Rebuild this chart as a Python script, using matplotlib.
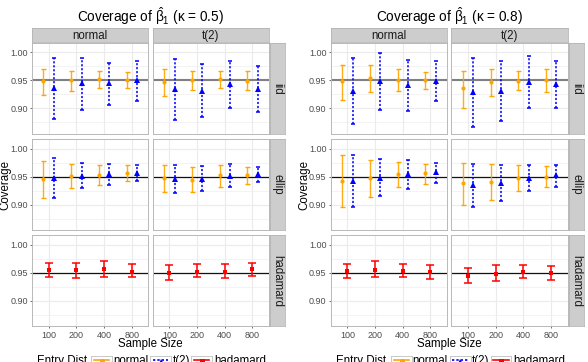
import matplotlib
matplotlib.use('Agg')
import matplotlib.pyplot as plt
from matplotlib.lines import Line2D

plt.rcParams['font.family'] = ['Liberation Sans', 'DejaVu Sans']
plt.rcParams['mathtext.fontset'] = 'custom'
plt.rcParams['mathtext.rm'] = 'Liberation Sans'
plt.rcParams['mathtext.it'] = 'Liberation Sans:italic'
plt.rcParams['mathtext.bf'] = 'Liberation Sans:bold'

# ---------------- data ----------------
sample_sizes = ['100', '200', '400', '800']
row_labels = ['iid', 'ellip', 'hadamard']
col_labels = ['normal', 't(2)']
entry_labels = ['normal', 't(2)', 'hadamard']
entry_colors = ['#FFA500', '#0000FF', '#FF0000']
entry_markers = ['o', '^', 's']
kappas = ['0.5', '0.8']

# each series: [estimate, lower, upper] for n = 100, 200, 400, 800
# kappa = 0.5
k05_iid_normal_normal = [[0.949, 0.950, 0.952, 0.951], [0.924, 0.931, 0.937, 0.937], [0.970, 0.967, 0.967, 0.965]]
k05_iid_normal_t2 = [[0.937, 0.945, 0.946, 0.950], [0.882, 0.898, 0.907, 0.913], [0.991, 0.991, 0.982, 0.985]]
k05_iid_t2_normal = [[0.948, 0.950, 0.952, 0.949], [0.923, 0.933, 0.937, 0.933], [0.970, 0.967, 0.967, 0.967]]
k05_iid_t2_t2 = [[0.934, 0.931, 0.943, 0.935], [0.879, 0.885, 0.901, 0.893], [0.989, 0.979, 0.985, 0.975]]
k05_ellip_normal_normal = [[0.945, 0.951, 0.953, 0.957], [0.912, 0.929, 0.935, 0.942], [0.978, 0.973, 0.971, 0.971]]
k05_ellip_normal_t2 = [[0.948, 0.951, 0.955, 0.957], [0.912, 0.929, 0.935, 0.942], [0.984, 0.974, 0.972, 0.970]]
k05_ellip_t2_normal = [[0.947, 0.944, 0.952, 0.952], [0.923, 0.923, 0.932, 0.936], [0.971, 0.968, 0.971, 0.968]]
k05_ellip_t2_t2 = [[0.946, 0.946, 0.951, 0.955], [0.921, 0.924, 0.931, 0.940], [0.971, 0.969, 0.972, 0.968]]
k05_hadamard_normal_hadamard = [[0.954, 0.954, 0.956, 0.952], [0.942, 0.941, 0.942, 0.943], [0.968, 0.968, 0.970, 0.965]]
k05_hadamard_t2_hadamard = [[0.950, 0.952, 0.952, 0.957], [0.937, 0.942, 0.940, 0.944], [0.964, 0.966, 0.966, 0.968]]
# kappa = 0.8
k08_iid_normal_normal = [[0.949, 0.954, 0.951, 0.951], [0.916, 0.930, 0.931, 0.934], [0.977, 0.978, 0.971, 0.966]]
k08_iid_normal_t2 = [[0.932, 0.949, 0.942, 0.949], [0.872, 0.898, 0.896, 0.913], [0.991, 0.999, 0.987, 0.984]]
k08_iid_t2_normal = [[0.936, 0.947, 0.949, 0.950], [0.901, 0.922, 0.933, 0.930], [0.967, 0.970, 0.967, 0.970]]
k08_iid_t2_t2 = [[0.929, 0.932, 0.948, 0.943], [0.866, 0.877, 0.900, 0.901], [0.990, 0.985, 0.994, 0.985]]
k08_ellip_normal_normal = [[0.942, 0.948, 0.955, 0.956], [0.895, 0.914, 0.931, 0.937], [0.989, 0.980, 0.976, 0.973]]
k08_ellip_normal_t2 = [[0.942, 0.948, 0.954, 0.959], [0.896, 0.915, 0.927, 0.939], [0.988, 0.982, 0.980, 0.975]]
k08_ellip_t2_normal = [[0.938, 0.940, 0.947, 0.950], [0.899, 0.908, 0.925, 0.931], [0.975, 0.972, 0.970, 0.969]]
k08_ellip_t2_t2 = [[0.935, 0.939, 0.947, 0.952], [0.896, 0.907, 0.925, 0.931], [0.973, 0.971, 0.971, 0.971]]
k08_hadamard_normal_hadamard = [[0.953, 0.955, 0.953, 0.951], [0.941, 0.942, 0.942, 0.939], [0.966, 0.970, 0.966, 0.964]]
k08_hadamard_t2_hadamard = [[0.944, 0.948, 0.951, 0.949], [0.932, 0.935, 0.940, 0.937], [0.958, 0.964, 0.964, 0.962]]

# (kappa index, row, col) -> list of (entry index, series)
panels = {
    (0, 0, 0): [(0, k05_iid_normal_normal), (1, k05_iid_normal_t2)],
    (0, 0, 1): [(0, k05_iid_t2_normal), (1, k05_iid_t2_t2)],
    (0, 1, 0): [(0, k05_ellip_normal_normal), (1, k05_ellip_normal_t2)],
    (0, 1, 1): [(0, k05_ellip_t2_normal), (1, k05_ellip_t2_t2)],
    (0, 2, 0): [(2, k05_hadamard_normal_hadamard)],
    (0, 2, 1): [(2, k05_hadamard_t2_hadamard)],
    (1, 0, 0): [(0, k08_iid_normal_normal), (1, k08_iid_normal_t2)],
    (1, 0, 1): [(0, k08_iid_t2_normal), (1, k08_iid_t2_t2)],
    (1, 1, 0): [(0, k08_ellip_normal_normal), (1, k08_ellip_normal_t2)],
    (1, 1, 1): [(0, k08_ellip_t2_normal), (1, k08_ellip_t2_t2)],
    (1, 2, 0): [(2, k08_hadamard_normal_hadamard)],
    (1, 2, 1): [(2, k08_hadamard_t2_hadamard)],
}

# ---------------- layout ----------------
W, H = 588, 362
fig = plt.figure(figsize=(W / 100, H / 100), dpi=100)


def add_ax(x0, y0, x1, y1):
    return fig.add_axes([x0 / W, 1 - y1 / H, (x1 - x0) / W, (y1 - y0) / H])


def ft(x, y, s, **kw):
    fig.text(x / W, 1 - y / H, s, **kw)


plot_left = [32.0, 330.7]
panel_w = 116.4
col_gap = 4.3
row_top = 42.7
row_h = 91.5
row_gap = 4.6
strip_top = 28.3
strip_w = 15.0

GRID = '#EBEBEB'
BORDER = '#B8B8B8'
STRIP_FILL = '#CDCDCD'
STRIP_EDGE = '#B5B5B5'
TICKLAB = '#4D4D4D'
dodge = 0.1875
DOT = (0, (1.4, 1.2))

for k in range(2):
    x_start = plot_left[k]
    for c in range(2):
        cx0 = x_start + c * (panel_w + col_gap)
        cx1 = cx0 + panel_w
        # top strip
        sax = add_ax(cx0, strip_top, cx1, row_top - 0.4)
        sax.set_facecolor(STRIP_FILL)
        for sp in sax.spines.values():
            sp.set_color(STRIP_EDGE)
            sp.set_linewidth(0.6)
        sax.set_xticks([]); sax.set_yticks([])
        sax.text(0.5, 0.45, col_labels[c], ha='center', va='center', fontsize=8.3,
                 color='#1A1A1A', transform=sax.transAxes)
        for r in range(3):
            ry0 = row_top + r * (row_h + row_gap)
            ry1 = ry0 + row_h
            ax = add_ax(cx0, ry0, cx1, ry1)
            ax.set_xlim(0.4, 4.6)
            ax.set_ylim(0.854, 1.0175)
            ax.set_facecolor('white')
            for sp in ax.spines.values():
                sp.set_color(BORDER)
                sp.set_linewidth(0.7)
            ax.set_yticks([0.90, 0.95, 1.00])
            ax.set_yticks([0.875, 0.925, 0.975], minor=True)
            ax.set_xticks([1, 2, 3, 4])
            ax.grid(True, which='major', color=GRID, lw=0.8, zorder=0)
            ax.grid(True, which='minor', axis='y', color=GRID, lw=0.4, zorder=0)
            ax.set_axisbelow(True)
            ax.tick_params(which='minor', length=0)
            ax.tick_params(which='major', length=1.6, width=0.5, color='#333333',
                           labelsize=6.5, labelcolor=TICKLAB, pad=1.5)
            if c == 0:
                ax.set_yticklabels(['0.90', '0.95', '1.00'])
            else:
                ax.tick_params(axis='y', length=0, labelleft=False)
            if r == 2:
                ax.set_xticklabels(sample_sizes)
            else:
                ax.tick_params(axis='x', length=0, labelbottom=False)
            # reference line
            if r == 0:
                ax.axhline(0.95, color='#808080', lw=1.5, zorder=1)
            else:
                ax.axhline(0.95, color='#111111', lw=0.9, zorder=1)
            series = panels[(k, r, c)]
            for e, (est, lo, hi) in series:
                if len(series) == 1:
                    off, cap = 0.0, 3.0
                else:
                    off = -dodge if e == 0 else dodge
                    cap = 1.8 if e == 0 else 1.2
                xs = [i + 1 + off for i in range(len(sample_sizes))]
                yerr = [[m - l for m, l in zip(est, lo)], [h - m for m, h in zip(est, hi)]]
                ms = {0: 3.0, 1: 3.8, 2: 3.2}[e]
                elw = {0: 1.0, 1: 1.1, 2: 1.1}[e]
                eb = ax.errorbar(xs, est, yerr=yerr, fmt=entry_markers[e], color=entry_colors[e],
                                 ms=ms, capsize=cap, elinewidth=elw, capthick=elw, zorder=3)
                eb[0].set_markeredgewidth(0)
                if e == 1:
                    eb[2][0].set_linestyle(DOT)
                if e == 0:
                    eb[2][0].set_alpha(0.9)
            # right strip
            if c == 1:
                rs = add_ax(cx1 + 0.8, ry0, cx1 + 0.8 + strip_w, ry1)
                rs.set_facecolor(STRIP_FILL)
                for sp in rs.spines.values():
                    sp.set_color(STRIP_EDGE)
                    sp.set_linewidth(0.6)
                rs.set_xticks([]); rs.set_yticks([])
                rs.text(0.5, 0.5, row_labels[r], ha='center', va='center', rotation=-90,
                        fontsize=8.3, color='#1A1A1A', transform=rs.transAxes)

    x_center = x_start + (2 * panel_w + col_gap) / 2
    ft(x_center, 16.5, r'Coverage of $\hat{\mathrm{β}}_1$ (κ = ' + kappas[k] + ')',
       ha='center', va='center', fontsize=9.8)
    ft(x_center, 344.5, 'Sample Size', ha='center', va='center', fontsize=8.3)
    ft(x_start - 26.5, row_top + (3 * row_h + 2 * row_gap) / 2, 'Coverage', ha='center',
       va='center', rotation=90, fontsize=8.3)

# ---------------- legends (cut off at the bottom edge, as in the reference) ----------------
legend_title_right = [87.5, 386.5]
key_left = [[91.0, 150.0, 191.0], [391.0, 449.5, 490.5]]
lab_left = [[113.5, 173.0, 214.0], [412.5, 472.0, 513.0]]
for k in range(2):
    ft(legend_title_right[k], 363.8, 'Entry Dist', ha='right', va='baseline', fontsize=8.3)
    for e in range(3):
        kx = key_left[k][e]
        kax = add_ax(kx, 356.4, kx + 21.0, 377.4)
        kax.set_xlim(0, 1); kax.set_ylim(0, 1)
        kax.invert_yaxis()
        kax.set_facecolor('white')
        for sp in kax.spines.values():
            sp.set_color('#C8C8C8')
            sp.set_linewidth(0.7)
        kax.set_xticks([]); kax.set_yticks([])
        ls = DOT if e == 1 else '-'
        kax.add_line(Line2D([0.12, 0.88], [0.17, 0.17], color=entry_colors[e], lw=1.2, ls=ls))
        kax.plot([0.5], [0.2], marker=entry_markers[e], color=entry_colors[e], ms=3.6, mew=0)
        ft(lab_left[k][e], 363.8, entry_labels[e], ha='left', va='baseline', fontsize=8.3)

fig.savefig('out.png', dpi=100)
